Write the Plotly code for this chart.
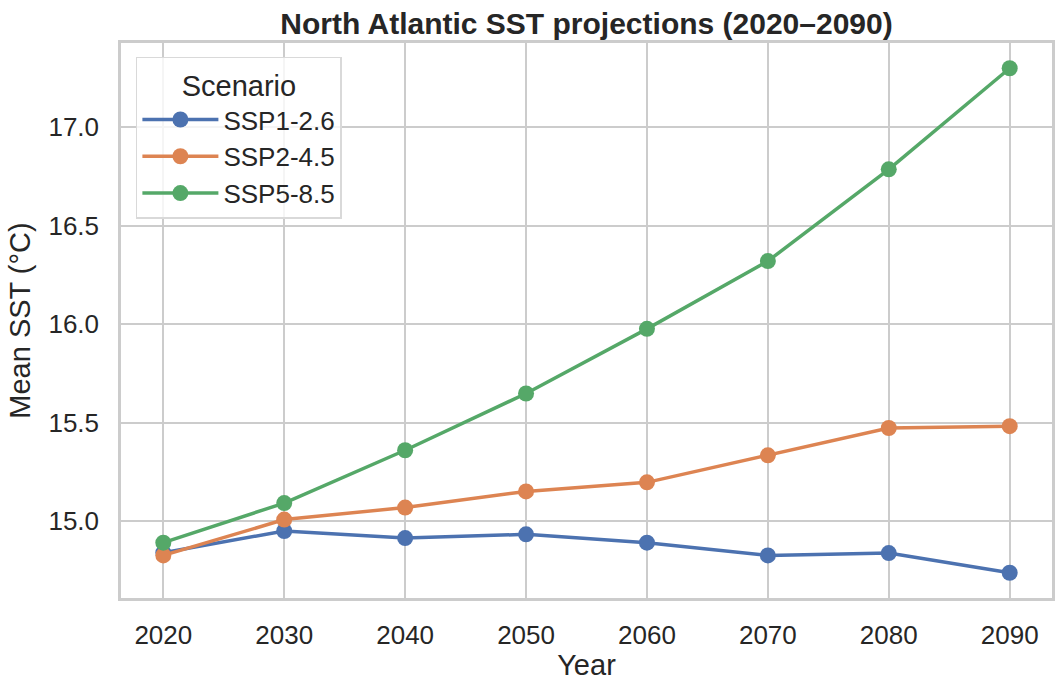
import plotly.graph_objects as go

years = [2020, 2030, 2040, 2050, 2060, 2070, 2080, 2090]
ssp126 = [14.841, 14.951, 14.915, 14.934, 14.892, 14.827, 14.839, 14.739]
ssp245 = [14.827, 15.009, 15.070, 15.152, 15.198, 15.335, 15.474, 15.483]
ssp585 = [14.892, 15.093, 15.361, 15.649, 15.977, 16.321, 16.787, 17.300]
names = ["SSP1-2.6", "SSP2-4.5", "SSP5-8.5"]
colors = ["#4C72B0", "#DD8452", "#55A868"]
ytick_vals = [15.0, 15.5, 16.0, 16.5, 17.0]
ytick_text = ["15.0", "15.5", "16.0", "16.5", "17.0"]

fig = go.Figure()
for name, vals, c in zip(names, [ssp126, ssp245, ssp585], colors):
    fig.add_trace(go.Scatter(x=years, y=vals, name=name, mode="lines+markers",
                             line=dict(color=c, width=3.5),
                             marker=dict(color=c, size=16)))

font_family = "Liberation Sans, Arial, sans-serif"
axis_common = dict(showgrid=True, gridcolor="#cccccc", gridwidth=2,
                   showline=True, linecolor="#cccccc", linewidth=2.5, mirror=True,
                   zeroline=False, ticks="", tickfont=dict(size=26, color="#262626"),
                   title_font=dict(size=29, color="#262626"), automargin=False)

fig.update_layout(
    width=1062, height=691,
    margin=dict(l=121, r=10, t=43, b=93),
    paper_bgcolor="white", plot_bgcolor="white",
    font=dict(family=font_family, color="#262626"),
    title=dict(text="<b>North Atlantic SST projections (2020–2090)</b>",
               x=(121 + 1052) / 2 / 1062, xanchor="center", y=1 - 23 / 691, yanchor="middle",
               font=dict(size=30, color="#262626")),
    xaxis=dict(axis_common, range=[2016.5, 2093.5], tickvals=years, ticklabelstandoff=12,
               title=dict(text="Year", standoff=6)),
    yaxis=dict(axis_common, range=[14.611, 17.428], tickvals=ytick_vals,
               ticktext=ytick_text, ticklabelstandoff=14,
               title=dict(text="Mean SST (°C)", standoff=10)),
    legend=dict(x=0.016, y=0.975, xanchor="left", yanchor="top",
                bgcolor="rgba(255,255,255,0.8)", bordercolor="#d9d9d9", borderwidth=1.5,
                font=dict(size=26, color="#262626"),
                title=dict(text="Scenario", side="top center", font=dict(size=29, color="#262626")),
                itemwidth=76),
    showlegend=True,
)

fig.write_html("out.html")
